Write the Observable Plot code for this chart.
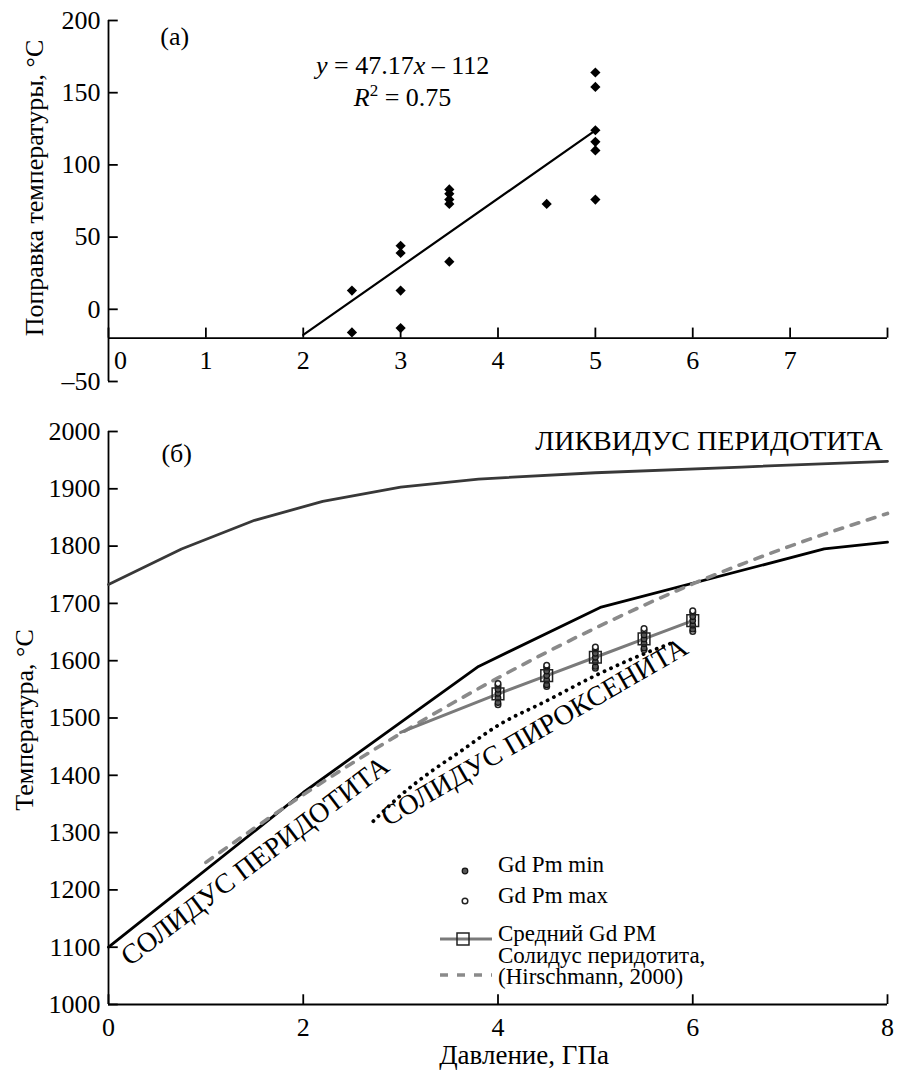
<!DOCTYPE html>
<html><head><meta charset="utf-8">
<script src="https://cdn.jsdelivr.net/npm/d3@7"></script>
<script src="https://cdn.jsdelivr.net/npm/@observablehq/plot@0.6"></script>
<style>
body{margin:0;background:#fff;}
#wrap{position:relative;width:897px;height:1072px;font-family:"Liberation Serif","Times New Roman",serif;}
#wrap > svg{display:block;}
#legend{position:absolute;left:0;top:0;pointer-events:none;}
</style></head><body><div id="wrap"></div>
<script>
// ---------- Panel (а) data ----------
const pressureA   = [2.5, 2.5, 3, 3, 3, 3, 3.5, 3.5, 3.5, 3.5, 3.5, 4.5, 5, 5, 5, 5, 5, 5];
const correctionA = [13, -16, 44, 39, 13, -13, 83, 80, 76, 73, 33, 73, 164, 154, 124, 116, 110, 76];
const fitP = [2, 5];
const fitT = [-17.7, 123.9];
const ticksAX  = [0, 1, 2, 3, 4, 5, 6, 7, 8];
const labelsAX = [1, 2, 3, 4, 5, 6, 7];
const ticksAY  = [-50, 0, 50, 100, 150, 200];
const eqLines  = ["y = 47.17x – 112", "R2 = 0.75"];

// ---------- Panel (б) data ----------
const liquidusP = [0, 0.75, 1.5, 2.2, 3, 3.8, 5, 6.5, 8];
const liquidusT = [1733, 1795, 1845, 1878, 1903, 1917, 1928, 1938, 1948];
const solidusP  = [0, 2, 3.8, 5.05, 7.35, 8];
const solidusT  = [1100, 1370, 1590, 1693, 1795, 1807];
const hirschP   = [1, 2, 3, 4, 5, 6, 7, 8];
const hirschT   = [1248, 1366, 1473, 1570, 1657, 1734, 1800, 1857];
const pyroxP    = [2.72, 3.0, 3.3, 3.6, 4.0, 4.5, 5.0, 5.4, 5.8];
const pyroxT    = [1320, 1365, 1405, 1440, 1487, 1530, 1574, 1605, 1632];
const meanLineP = [3, 4, 4.5, 5, 5.5, 6];
const meanLineT = [1475, 1542, 1574, 1606, 1638, 1670];
const meanP     = [4, 4.5, 5, 5.5, 6];
const meanT     = [1542, 1574, 1606, 1638, 1670];
const minP = [4,4,4,4, 4.5,4.5,4.5,4.5, 5,5,5,5, 5.5,5.5,5.5,5.5, 6,6,6,6];
const minT = [1527,1535,1543,1550, 1558,1566,1574,1582, 1590,1598,1606,1613, 1622,1630,1638,1645, 1655,1662,1670,1677];
const maxP = [4,4,4, 4.5,4.5,4.5, 5,5,5, 5.5,5.5,5.5, 6,6,6];
const maxT = [1523,1556,1560, 1555,1588,1592, 1587,1620,1624, 1619,1652,1656, 1651,1684,1687];
const ticksBX = [0, 2, 4, 6, 8];
const ticksBY = [1000, 1100, 1200, 1300, 1400, 1500, 1600, 1700, 1800, 1900, 2000];
const curveLabels = ["ЛИКВИДУС ПЕРИДОТИТА", "СОЛИДУС ПЕРИДОТИТА", "СОЛИДУС ПИРОКСЕНИТА"];
const legendLabels = ["Gd Pm min", "Gd Pm max", "Средний Gd PM", "Солидус перидотита,", "(Hirschmann, 2000)"];

const zip = (xs, ys) => xs.map((x, i) => ({x, y: ys[i]}));
const FONT = "Liberation Serif, Times New Roman, serif";
const AX = {stroke: "black", strokeWidth: 1.8};
const fmt = d => String(d).replace("-", "–");

// ---------- Panel (а) ----------
const ptsA = zip(pressureA, correctionA);
const plotA = Plot.plot({
  width: 897, height: 400,
  marginLeft: 108, marginRight: 10, marginTop: 20, marginBottom: 19,
  style: {fontFamily: FONT, fontSize: "26px", color: "black", background: "white", overflow: "visible"},
  x: {domain: [0, 8], axis: null},
  y: {domain: [-50, 200]},
  marks: [
    Plot.axisY({ticks: ticksAY, tickSize: 0, tickPadding: 8, label: null, tickFormat: fmt, fontSize: 26, fontFamily: FONT}),
    Plot.ruleX([0], AX),
    Plot.ruleY([-20], AX),
    Plot.ruleY(ticksAY, {x1: 0, x2: 0.1, ...AX}),
    Plot.ruleX(ticksAX, {y1: -20, y2: -13, ...AX}),
    Plot.text(labelsAX, {x: d => d, y: () => -41, lineAnchor: "bottom", fontSize: 26}),
    Plot.text([0], {x: d => d, y: () => -41, dx: 12, lineAnchor: "bottom", fontSize: 26}),
    Plot.line(zip(fitP, fitT), {x: "x", y: "y", stroke: "black", strokeWidth: 2.2}),
    Plot.dot(ptsA, {x: "x", y: "y", symbol: "diamond2", r: 4.6, fill: "black"}),
    Plot.text(["(а)"], {x: () => 0.68, y: () => 183, lineAnchor: "bottom", fontSize: 26}),
    Plot.text([eqLines[0]], {x: () => 3.02, y: () => 163, lineAnchor: "bottom", fontSize: 26}),
    Plot.text([eqLines[1]], {x: () => 3.02, y: () => 141, lineAnchor: "bottom", fontSize: 26}),
    Plot.text(["Поправка температуры, °С"], {frameAnchor: "left", textAnchor: "middle", rotate: -90, dx: -66, dy: -13, lineAnchor: "bottom", fontSize: 26})
  ]
});

// ---------- Panel (б) ----------
const plotB = Plot.plot({
  width: 897, height: 672,
  marginLeft: 108, marginRight: 10, marginTop: 31, marginBottom: 68,
  style: {fontFamily: FONT, fontSize: "26px", color: "black", background: "white", overflow: "visible"},
  x: {domain: [0, 8]},
  y: {domain: [1000, 2000]},
  marks: [
    Plot.axisX({ticks: ticksBX, tickSize: 0, tickPadding: 13, label: null, tickFormat: fmt, fontSize: 26, fontFamily: FONT}),
    Plot.axisY({ticks: ticksBY, tickSize: 0, tickPadding: 8, label: null, tickFormat: fmt, fontSize: 26, fontFamily: FONT}),
    Plot.ruleX([0], AX),
    Plot.ruleY([1000], AX),
    Plot.ruleY(ticksBY, {x1: 0, x2: 0.1, ...AX}),
    Plot.ruleX(ticksBX, {y1: 1000, y2: 1017, ...AX}),
    Plot.line(zip(liquidusP, liquidusT), {x: "x", y: "y", stroke: "#383838", strokeWidth: 2.8}),
    Plot.line(zip(solidusP, solidusT), {x: "x", y: "y", stroke: "black", strokeWidth: 2.8}),
    Plot.line(zip(hirschP, hirschT), {x: "x", y: "y", stroke: "#8a8a8a", strokeWidth: 3.6, strokeDasharray: "8,9", curve: "monotone-x"}),
    Plot.line(zip(pyroxP, pyroxT), {x: "x", y: "y", stroke: "black", strokeWidth: 3.8, strokeDasharray: "0.1,7", strokeLinecap: "round", curve: "monotone-x"}),
    Plot.line(zip(meanLineP, meanLineT), {x: "x", y: "y", stroke: "#7a7a7a", strokeWidth: 3}),
    Plot.dot(zip(maxP, maxT), {x: "x", y: "y", r: 2.8, fill: "white", stroke: "#222", strokeWidth: 1.5}),
    Plot.dot(zip(minP, minT), {x: "x", y: "y", r: 2.8, fill: "#555", stroke: "#111", strokeWidth: 1.2}),
    Plot.dot(zip(meanP, meanT), {x: "x", y: "y", symbol: "square", r: 6.6, fill: "none", stroke: "#222", strokeWidth: 1.5}),
    Plot.text([curveLabels[0]], {x: () => 7.95, y: () => 1967, textAnchor: "end", lineAnchor: "bottom", fontSize: 28}),
    Plot.text([curveLabels[1]], {x: () => 1.56, y: () => 1238, rotate: -37, lineAnchor: "bottom", fontSize: 28}),
    Plot.text([curveLabels[2]], {x: () => 4.42, y: () => 1462, rotate: -30, lineAnchor: "bottom", fontSize: 28}),
    Plot.text(["(б)"], {x: () => 0.70, y: () => 1946, lineAnchor: "bottom", fontSize: 26}),
    Plot.text(["Температура, °С"], {frameAnchor: "left", textAnchor: "middle", rotate: -90, dx: -76, dy: 2, lineAnchor: "bottom", fontSize: 26}),
    Plot.text(["Давление, ГПа"], {frameAnchor: "bottom", textAnchor: "middle", dx: 26, dy: 59, lineAnchor: "bottom", fontSize: 27})
  ]
});

// rich text for the regression equation
plotA.querySelectorAll("text").forEach(t => {
  if (t.textContent === eqLines[0]) {
    t.innerHTML = '<tspan font-style="italic">y</tspan> = 47.17<tspan font-style="italic">x</tspan> – 112';
  } else if (t.textContent === eqLines[1]) {
    t.innerHTML = '<tspan font-style="italic">R</tspan><tspan dy="-10" font-size="17">2</tspan><tspan dy="10"> = 0.75</tspan>';
  }
});

const wrap = document.getElementById("wrap");
wrap.appendChild(plotA);
wrap.appendChild(plotB);

// ---------- Legend (inside panel б) ----------
const lg = d3.select(wrap).append("svg").attr("id", "legend").attr("width", 897).attr("height", 1072)
  .style("font-family", FONT).style("font-size", "23px");
lg.append("circle").attr("cx", 465).attr("cy", 871).attr("r", 2.8).attr("fill", "#555").attr("stroke", "#111").attr("stroke-width", 1.2);
lg.append("circle").attr("cx", 465).attr("cy", 901).attr("r", 2.8).attr("fill", "white").attr("stroke", "#222").attr("stroke-width", 1.5);
lg.append("line").attr("x1", 440).attr("x2", 492).attr("y1", 939).attr("y2", 939).attr("stroke", "#7a7a7a").attr("stroke-width", 3);
lg.append("rect").attr("x", 457).attr("y", 933).attr("width", 12).attr("height", 12).attr("fill", "none").attr("stroke", "#222").attr("stroke-width", 1.5);
lg.append("line").attr("x1", 440).attr("x2", 492).attr("y1", 975).attr("y2", 975).attr("stroke", "#8a8a8a").attr("stroke-width", 3.6).attr("stroke-dasharray", "8,9");
const ys = [872, 903, 941, 963, 984];
legendLabels.forEach((s, i) => lg.append("text").attr("x", 498).attr("y", ys[i]).text(s));
</script></body></html>
